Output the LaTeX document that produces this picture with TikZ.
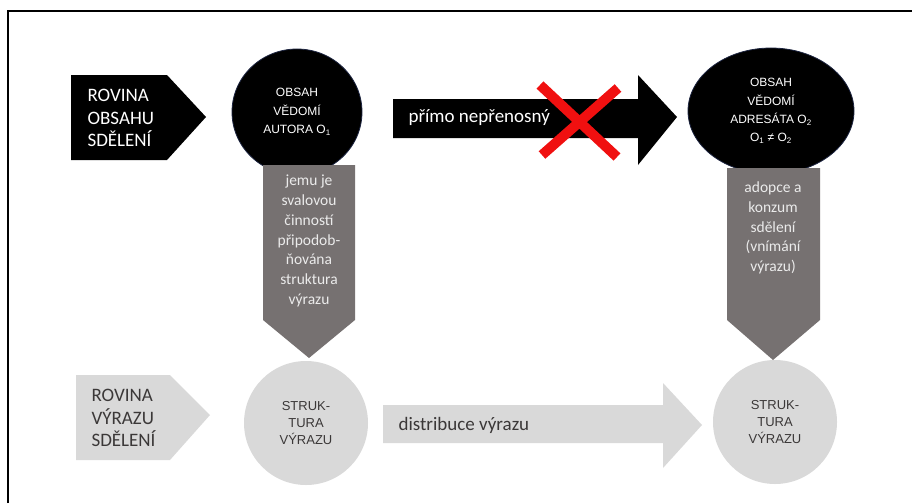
\documentclass[tikz,border=0pt]{standalone}
\usepackage{fontspec}
\setmainfont{Carlito}
\newfontfamily\arialfont{Liberation Sans}
\usetikzlibrary{shapes.geometric}
\definecolor{darkgrey}{HTML}{767171}
\definecolor{lightgrey}{HTML}{D9D9D9}
\definecolor{inkgrey}{HTML}{3B3838}
\definecolor{crossred}{HTML}{F01010}
\definecolor{glow}{HTML}{1C2440}
\begin{document}
\begin{tikzpicture}[x=1pt,y=-1pt,
    planetext/.style={anchor=west,align=left,font=\fontsize{19}{22.5}\selectfont},
    graytext/.style={align=center,text=white!92!black,font=\fontsize{15.5}{19.8}\selectfont},
    contentbubble/.style={ellipse,fill=black,draw=glow,line width=0.8pt,text=white,align=center,inner sep=0pt,font=\arialfont\fontsize{12}{18.3}\selectfont},
    formbubble/.style={circle,fill=lightgrey,text=inkgrey,align=center,inner sep=0pt,minimum size=124,font=\arialfont\fontsize{13}{17}\selectfont}]
    \useasboundingbox (0,0) rectangle (912,503);
    \draw[line width=2pt] (8,503) -- (8,11) -- (912,11);
    % upper plane
    \fill (71,75) -- (167,75) -- (206,117) -- (167,160) -- (71,160) -- cycle;
    \node[planetext,text=white] (obsah) at (84,118) {ROVINA\\OBSAHU\\SDĚLENÍ};
    \node[contentbubble,minimum width=130,minimum height=126] (o1) at (297,112) {OBSAH\\VĚDOMÍ\\AUTORA O\textsubscript{1}};
    \node[contentbubble,minimum width=166,minimum height=126] (o2) at (771,111) {OBSAH\\VĚDOMÍ\\ADRESÁTA O\textsubscript{2}\\O\textsubscript{1} ≠ O\textsubscript{2}};
    \fill (393,99) -- (638,99) -- (638,75) -- (677,117) -- (638,165) -- (638,138) -- (393,138) -- cycle;
    \node[planetext,text=white] (prenos) at (405,118) {přímo nepřenosný};
    \draw[crossred,line width=10pt] (540,85) -- (617,157) (618,88) -- (542,155);
    % lower plane
    \fill[lightgrey] (76,375) -- (170,375) -- (210,415) -- (170,460) -- (76,460) -- cycle;
    \node[planetext,text=inkgrey] (vyraz) at (88,418) {ROVINA\\VÝRAZU\\SDĚLENÍ};
    \node[formbubble] (s1) at (306,423) {STRUK-\\TURA\\VÝRAZU};
    \node[formbubble] (s2) at (775,422) {STRUK-\\TURA\\VÝRAZU};
    \fill[lightgrey] (383,405) -- (663,405) -- (663,383) -- (702,425) -- (663,468) -- (663,443) -- (383,443) -- cycle;
    \node[planetext,text=inkgrey] (distr) at (395,425) {distribuce výrazu};
    % vertical steps
    \fill[darkgrey] (263,165) -- (355,165) -- (355,320) -- (309,358) -- (263,320) -- cycle;
    \node[graytext] (kodovani) at (309,241) {jemu je\\svalovou\\činností\\připodob-\\ňována\\struktura\\výrazu};
    \fill[darkgrey] (727,168) -- (820,168) -- (820,320) -- (773,360) -- (727,320) -- cycle;
    \node[graytext] (adopce) at (773,228) {adopce a\\konzum\\sdělení\\(vnímání\\výrazu)};
\end{tikzpicture}
\end{document}
